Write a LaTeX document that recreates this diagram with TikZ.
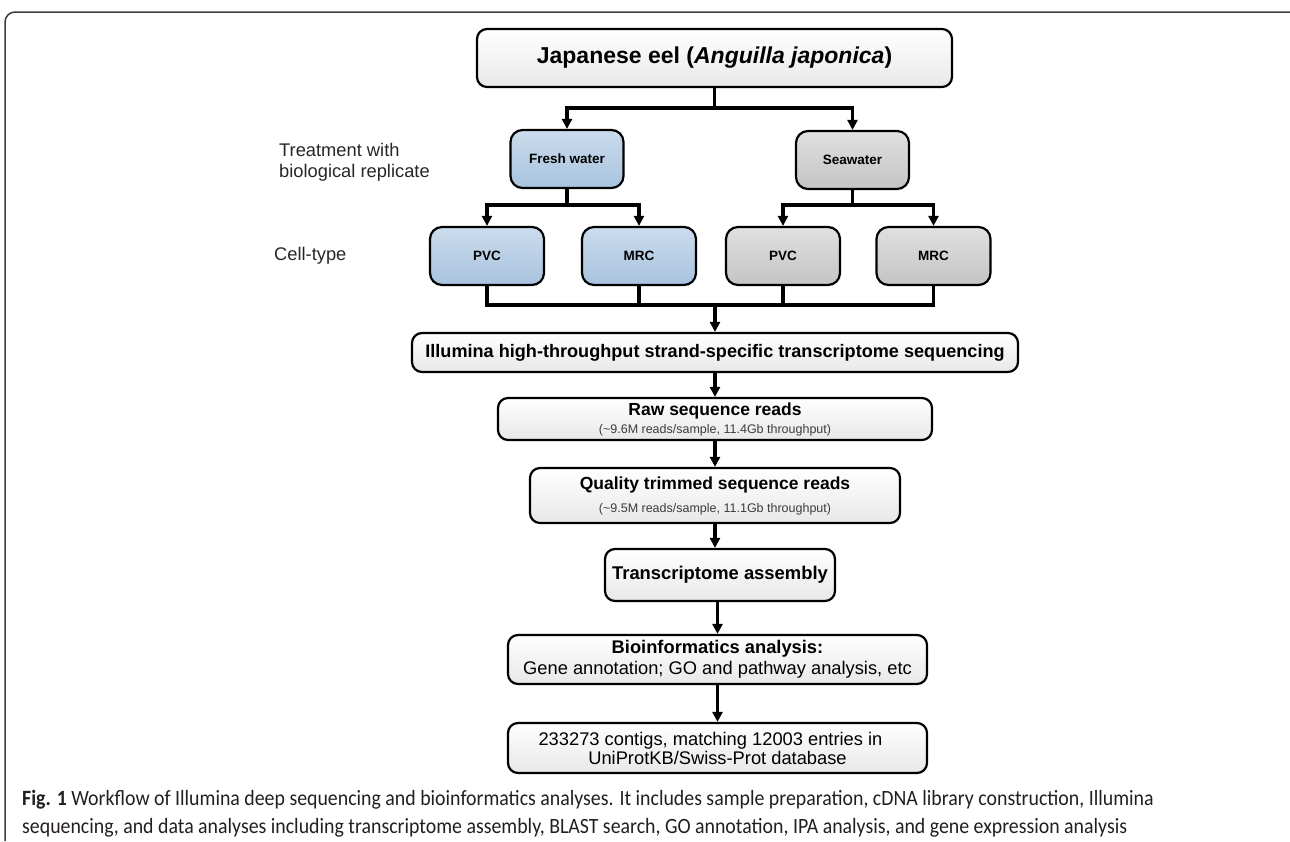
\documentclass[tikz,border=0pt]{standalone}
\usepackage{fontspec}
\setmainfont{Liberation Sans}
\newfontfamily\capfont{Carlito}[FakeStretch=0.91]
\usetikzlibrary{arrows.meta}
\definecolor{fwtop}{RGB}{203,220,237}
\definecolor{fwbot}{RGB}{168,195,222}
\definecolor{swtop}{RGB}{224,224,224}
\definecolor{swbot}{RGB}{196,196,196}
\definecolor{wbot}{RGB}{232,232,232}
\definecolor{subgray}{RGB}{60,60,60}
\definecolor{framegray}{RGB}{60,60,60}
\definecolor{captext}{RGB}{35,31,32}
\newcommand\subfnt{\fontsize{12.5}{15}\selectfont\mdseries\color{subgray}}
\begin{document}
\begin{tikzpicture}[x=1pt,y=1pt,
  box/.style={draw=black, line width=2.2pt, rounded corners=10pt, top color=white, bottom color=wbot, align=center, inner sep=0pt, text=black},
  fwbox/.style={box, top color=fwtop, bottom color=fwbot, minimum width=113pt, minimum height=58pt, rounded corners=12pt, font=\fontsize{13.5}{16}\selectfont\bfseries},
  swbox/.style={fwbox, top color=swtop, bottom color=swbot},
  conn/.style={line width=3.2pt},
  arr/.style={line width=3.2pt, -{Triangle[length=10pt,width=10pt]}},
  lbl/.style={anchor=west, font=\fontsize{18.3}{21}\selectfont, inner sep=0pt, align=left, text=black!85},
  ttl/.style={font=\fontsize{18.1}{20}\selectfont\bfseries}]
\useasboundingbox (0,0) rectangle (1290,-841);
% frame
\draw[framegray, line width=1.5pt, rounded corners=10pt] (5,-841) -- (5,-12) -- (1290,-12);

% boxes
\node[box, minimum width=475pt, minimum height=58pt, font=\fontsize{23}{26}\selectfont\bfseries] (top) at (714.5,-58) {Japanese eel (\textit{Anguilla japonica})};
\node[fwbox] (fw) at (567,-159) {Fresh water};
\node[swbox] (sw) at (852.5,-160) {Seawater};
\node[fwbox, minimum width=114pt] (fwpvc) at (487,-256) {PVC};
\node[fwbox, minimum width=114pt] (fwmrc) at (639,-256) {MRC};
\node[swbox, minimum width=114pt] (swpvc) at (783,-256) {PVC};
\node[swbox, minimum width=114pt] (swmrc) at (933.5,-256) {MRC};

\node[box, ttl, minimum width=606pt, minimum height=39pt] (ill) at (715,-352.5) {Illumina high-throughput strand-specific transcriptome sequencing};
\node[box, minimum width=434pt, minimum height=42pt, font=\fontsize{17.5}{19}\selectfont\bfseries] (raw) at (715,-419) {Raw sequence reads\\[-1pt]{\subfnt(\textasciitilde 9.6M reads/sample, 11.4Gb throughput)}};
\node[box, minimum width=370pt, minimum height=55pt, font=\fontsize{17.5}{19}\selectfont\bfseries] (qual) at (715,-495.5) {Quality trimmed sequence reads\\[4pt]{\subfnt(\textasciitilde 9.5M reads/sample, 11.1Gb throughput)}};
\node[box, minimum width=230pt, minimum height=52pt, font=\fontsize{18.4}{20}\selectfont\bfseries] (asm) at (720,-575) {Transcriptome assembly};
\node[box, minimum width=419pt, minimum height=49pt, font=\fontsize{18.3}{21}\selectfont] (bio) at (717.5,-659.5) {\textbf{Bioinformatics analysis:}\\Gene annotation; GO and pathway analysis, etc};
\node[box, minimum width=419pt, minimum height=50pt, font=\fontsize{18.3}{19}\selectfont] (fin) at (717.5,-748) {233273 contigs, matching 12003 entries in\hspace{14pt}\null\\UniProtKB/Swiss-Prot database};

% side labels
\node[lbl] (treat) at (279,-162.5) {Treatment with\\biological replicate};
\node[lbl] (cell) at (274,-256) {Cell-type};

% connectors
\coordinate (b1) at (714.5,-108);
\draw[conn] (top.south) -- (b1);
\draw[arr] (b1) -| (fw.north);
\draw[arr] (b1) -| (sw.north);
\coordinate (b2) at (567,-205);
\draw[conn] (fw.south) -- (b2);
\draw[arr] (b2) -| (fwpvc.north);
\draw[arr] (b2) -| (fwmrc.north);
\coordinate (b3) at (852.5,-205);
\draw[conn] (sw.south) -- (b3);
\draw[arr] (b3) -| (swpvc.north);
\draw[arr] (b3) -| (swmrc.north);
\coordinate (m) at (715,-305);
\draw[conn, line join=miter] (fwpvc.south) -- (fwpvc.south |- m) -- (swmrc.south |- m) -- (swmrc.south);
\draw[conn] (fwmrc.south) -- (fwmrc.south |- m);
\draw[conn] (swpvc.south) -- (swpvc.south |- m);
\draw[arr] (m) -- (ill.north);
\draw[arr] (ill.south) -- (raw.north);
\draw[arr] (raw.south) -- (qual.north);
\draw[arr] (qual.south) -- (qual.south |- asm.north);
\draw[arr] (asm.south -| bio.north) -- (bio.north);
\draw[arr] (bio.south) -- (fin.north);

% caption
\node[anchor=west, inner sep=0pt, align=left, text=captext, font=\capfont\fontsize{21.8}{28}\selectfont] (cap) at (22,-814) {\textbf{Fig. 1} Workflow of Illumina deep sequencing and bioinformatics analyses. It includes sample preparation, cDNA library construction, Illumina\\sequencing, and data analyses including transcriptome assembly, BLAST search, GO annotation, IPA analysis, and gene expression analysis};
\end{tikzpicture}
\end{document}
